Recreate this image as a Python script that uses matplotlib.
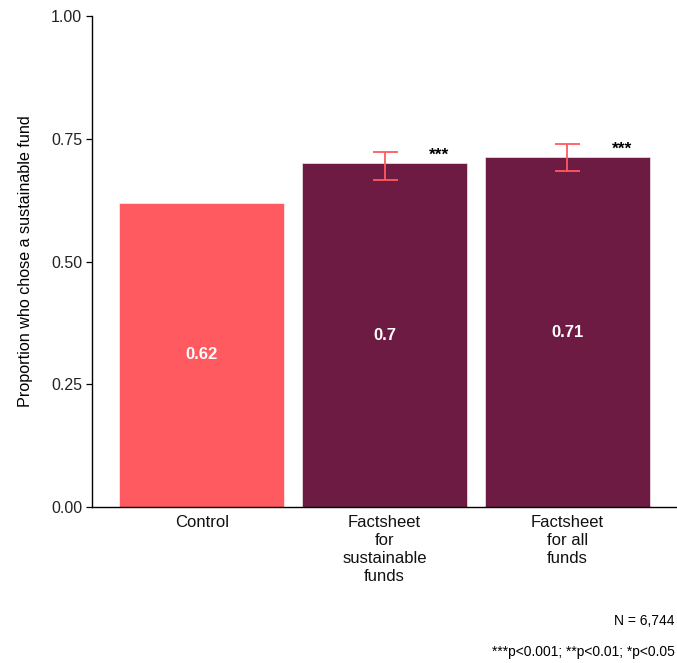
import matplotlib
matplotlib.use("Agg")
import matplotlib.pyplot as plt
import numpy as np

categories = ["Control", "Factsheet\nfor\nsustainable\nfunds", "Factsheet\nfor all\nfunds"]
values = [0.62, 0.70, 0.712]
value_labels = ["0.62", "0.7", "0.71"]
err_low = [None, 0.667, 0.685]
err_high = [None, 0.722, 0.740]
stars = ["", "***", "***"]
y_ticks = [0.0, 0.25, 0.5, 0.75, 1.0]
y_tick_labels = ["0.00", "0.25", "0.50", "0.75", "1.00"]

plt.rcParams['font.family'] = ['Liberation Sans', 'DejaVu Sans']

red = "#FF5A5F"
plum = "#6D1B43"
colors = [red, plum, plum]

fig = plt.figure(figsize=(6.77, 6.63), dpi=100)
ax = fig.add_axes([92/677, 1 - 507/663, 1 - 92/677, (507 - 16)/663])

x = np.arange(len(categories))
ax.bar(x, values, width=0.9, color=colors, edgecolor="white", linewidth=0.4, zorder=2)

for i in range(len(categories)):
    ax.text(x[i], values[i] / 2, value_labels[i], ha="center", va="center",
            color="white", fontsize=12, fontweight="bold", zorder=4)
    if err_low[i] is not None:
        ax.errorbar(x[i], values[i],
                    yerr=[[values[i] - err_low[i]], [err_high[i] - values[i]]],
                    fmt="none", ecolor=red, elinewidth=1.3, capsize=9, capthick=1.3, zorder=3)
    if stars[i]:
        ax.text(x[i] + 0.3, values[i] + 0.016, stars[i], ha="center", va="center",
                fontsize=12.5, fontweight="bold", color="black", zorder=4)

ax.set_xlim(-0.6, len(categories) - 0.4)
ax.set_ylim(0, 1)
ax.set_yticks(y_ticks)
ax.set_yticklabels(y_tick_labels, fontsize=11.5, color="#222222")
ax.set_xticks(x)
ax.set_xticklabels(categories, fontsize=12, color="#111111", linespacing=1.23)
ax.tick_params(axis="x", length=0, pad=6)
ax.tick_params(axis="y", length=4, width=0.9, pad=3)
ax.set_ylabel("Proportion who chose a sustainable fund", fontsize=11.6, labelpad=13)

for s in ["top", "right"]:
    ax.spines[s].set_visible(False)
for s in ["left", "bottom"]:
    ax.spines[s].set_linewidth(1.0)
    ax.spines[s].set_color("black")

fig.text(675/677, 1 - 621/663, "N = 6,744", ha="right", va="center", fontsize=10)
fig.text(675/677, 1 - 652/663, "***p<0.001; **p<0.01; *p<0.05", ha="right", va="center", fontsize=10)

fig.savefig("out.png", dpi=100)
